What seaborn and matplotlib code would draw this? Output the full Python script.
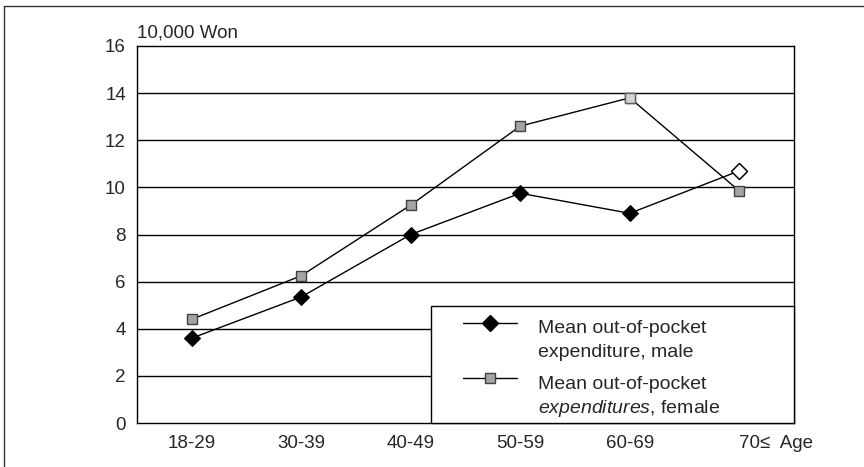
import numpy as np
import pandas as pd
import matplotlib
matplotlib.use("Agg")
import matplotlib.pyplot as plt
from matplotlib.lines import Line2D
from matplotlib.patches import Rectangle
import seaborn as sns

ages = ["18-29", "30-39", "40-49", "50-59", "60-69", "70\u2264"]
male = [3.6, 5.35, 8.0, 9.75, 8.9, 10.7]
female = [4.4, 6.25, 9.25, 12.6, 13.8, 9.85]
yticks = [0, 2, 4, 6, 8, 10, 12, 14, 16]
legend_male = ["Mean out-of-pocket", "expenditure, male"]
legend_female = ["Mean out-of-pocket", r"$\it{expenditures}$, female"]

sns.set_theme(style="white")
plt.rcParams["font.family"] = ["Liberation Sans", "DejaVu Sans"]
plt.rcParams["mathtext.fontset"] = "custom"
plt.rcParams["mathtext.it"] = "Liberation Sans:italic"
plt.rcParams["mathtext.rm"] = "Liberation Sans"

df = pd.DataFrame({"pos": np.arange(len(ages)), "age": ages,
                   "male": male, "female": female})

FEM_FACE = "#a4a4a4"
FEM_EDGE = "#404040"

fig = plt.figure(figsize=(8.64, 4.67), dpi=100)
ax = fig.add_axes([137/864, 1-423/467, (794-137)/864, (423-46)/467])

for y in yticks[1:-1]:
    ax.axhline(y, color="black", lw=1.0, zorder=1)

sns.lineplot(data=df, x="pos", y="female", ax=ax, color="black", lw=1.0,
             marker="s", markersize=7, markerfacecolor=FEM_FACE,
             markeredgecolor=FEM_EDGE, markeredgewidth=1.0, zorder=3)
sns.lineplot(data=df, x="pos", y="male", ax=ax, color="black", lw=1.0,
             marker="D", markersize=8.5, markerfacecolor="black",
             markeredgecolor="black", zorder=4)
# special markers: lighter female 60-69, hollow male 70<=
ax.plot(df["pos"].iloc[4], df["female"].iloc[4], marker="s", markersize=7,
        markerfacecolor="#d4d4d4", markeredgecolor="#606060", zorder=5, ls="none")
ax.plot(df["pos"].iloc[5], df["male"].iloc[5], marker="D", markersize=8.5,
        markerfacecolor="white", markeredgecolor="black", zorder=5, ls="none")

ax.set_xlim(-0.5, len(ages) - 0.5)
ax.set_ylim(0, 16)
ax.set_yticks(yticks)
ax.set_yticklabels([str(v) for v in yticks], fontsize=13.5)
ax.set_xticks(np.arange(len(ages)))
labels = ages[:-1] + [ages[-1] + "  Age"]
ax.set_xticklabels(labels, fontsize=13.5)
tl = ax.get_xticklabels()
tl[-1].set_horizontalalignment("left")
ax.set_xticks(np.arange(len(ages) - 1) + 0.5, minor=True)
ax.tick_params(axis="x", which="major", length=0, pad=9)
ax.tick_params(axis="x", which="minor", direction="in", length=5, width=1, color="black")
ax.tick_params(axis="y", length=0, pad=8)
ax.set_xlabel("")
ax.set_ylabel("")
for s in ax.spines.values():
    s.set_color("black")
    s.set_linewidth(1.0)
    s.set_visible(True)

ax.text(0.0, 1.012, "10,000 Won", transform=ax.transAxes, ha="left", va="bottom",
        fontsize=13.5)

# legend box (manual to match layout)
def px(x):
    return (x - 137) / 657

def py(y):
    return (423 - y) / 377

T = ax.transAxes
ax.add_patch(Rectangle((px(431), 0), px(794) - px(431), py(306), transform=T,
                       facecolor="white", edgecolor="black", lw=1.0, zorder=10,
                       clip_on=False))
ax.plot([px(463), px(517)], [py(323), py(323)], color="black", lw=1.0,
        transform=T, zorder=11, clip_on=False)
ax.plot([px(490)], [py(323)], marker="D", markersize=8.5, color="black",
        transform=T, zorder=12, clip_on=False)
ax.plot([px(463), px(517)], [py(378), py(378)], color="black", lw=1.0,
        transform=T, zorder=11, clip_on=False)
ax.plot([px(490)], [py(378)], marker="s", markersize=7, markerfacecolor=FEM_FACE,
        markeredgecolor=FEM_EDGE, transform=T, zorder=12, clip_on=False)
for txt, yb in zip(legend_male + legend_female, [333, 357, 389, 413]):
    ax.text(px(538), py(yb), txt, transform=T, ha="left", va="baseline",
            fontsize=14, zorder=12)

fig.add_artist(Line2D([4/864, 4/864], [0, 1-6/467], color="#333333", lw=1.0))
fig.add_artist(Line2D([4/864, 1], [1-6/467, 1-6/467], color="#333333", lw=1.0))

fig.savefig("out.png", dpi=100)
